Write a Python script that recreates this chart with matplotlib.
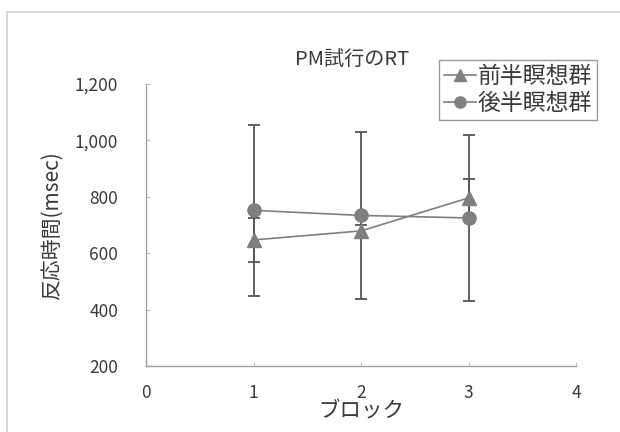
import matplotlib
matplotlib.use("Agg")
import matplotlib.pyplot as plt
from matplotlib.patches import Rectangle

plt.rcParams['font.family'] = ['Noto Sans CJK JP', 'DejaVu Sans']

blocks = [1, 2, 3]
first_half = [647, 679, 796]
first_err = [79, 20, 67]
second_half = [752, 734, 725]
second_err = [302, 296, 295]
series_names = ["前半瞑想群", "後半瞑想群"]
yticks = [200, 400, 600, 800, 1000, 1200]
ytick_labels = ["200", "400", "600", "800", "1,000", "1,200"]
xticks = [0, 1, 2, 3, 4]

fig = plt.figure(figsize=(6.2, 4.32), dpi=100)
fig.patches.append(Rectangle((7/620, -0.1), 1.2, 1 - 12/432 + 0.1, transform=fig.transFigure,
                             fill=False, edgecolor="#d0d0d0", linewidth=1.2))
ax = fig.add_axes([146/620, 1 - 366/432, 430/620, (366 - 84)/432])

line_c = "#7f7f7f"
err_c = "#555555"
c1 = ax.errorbar(blocks, first_half, yerr=first_err, color=line_c, marker="^", markersize=9.5,
                 linewidth=1.2, ecolor=err_c, elinewidth=1.3, capsize=4, capthick=1.3, zorder=3)
c2 = ax.errorbar(blocks, second_half, yerr=second_err, color=line_c, marker="o", markersize=9.5,
                 linewidth=1.2, ecolor=err_c, elinewidth=1.3, capsize=4, capthick=1.3, zorder=3)

ax.set_xlim(0, 4)
ax.set_ylim(200, 1200)
ax.set_xticks(xticks)
ax.set_yticks(yticks)
ax.set_yticklabels(ytick_labels)
for s in ["top", "right"]:
    ax.spines[s].set_visible(False)
for s in ["left", "bottom"]:
    ax.spines[s].set_color("#a0a0a0")
    ax.spines[s].set_linewidth(1.0)
ax.tick_params(axis="both", colors="#c0c0c0", labelcolor="#3a3a3a", labelsize=12.5,
               direction="in", length=3)
ax.tick_params(axis="x", pad=13)
ax.tick_params(axis="y", pad=20)

ax.set_title("PM試行のRT", fontsize=14.5, color="#3a3a3a", pad=13, x=0.479)
ax.set_xlabel("ブロック", fontsize=15.5, color="#3a3a3a", labelpad=-1)
ax.set_ylabel("反応時間(msec)", fontsize=15, color="#3a3a3a", labelpad=9)

leg = ax.legend([c1[0], c2[0]], series_names, loc="upper left",
                bbox_to_anchor=(439/620, 1 - 60/432), bbox_transform=fig.transFigure,
                fontsize=16.5, frameon=True, fancybox=False, edgecolor="#808080",
                handlelength=1.4, handletextpad=0.1, borderpad=0.2, labelspacing=0.2,
                borderaxespad=0, markerscale=0.85)
leg.get_frame().set_linewidth(1.0)
for t in leg.get_texts():
    t.set_color("#3a3a3a")

fig.savefig("out.png", dpi=100)
